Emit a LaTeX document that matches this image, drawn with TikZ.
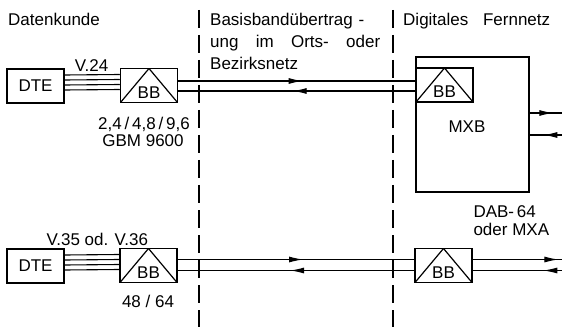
\documentclass[tikz,border=0pt]{standalone}
\usepackage{fontspec}
\setmainfont{Liberation Sans}
\usetikzlibrary{arrows.meta,decorations.markings}

\tikzset{
  unit/.style={draw, line width=1.5pt, minimum width=57pt, minimum height=34pt, inner sep=0pt},
  bbunit/.style={unit, label={[yshift=-7pt]center:BB},
    path picture={\draw[line width=1.2pt] (path picture bounding box.south west)
      -- (path picture bounding box.north) -- (path picture bounding box.south east);}},
  wire/.style={line width=1.1pt},
  fwd/.style={postaction={decorate, decoration={markings,
    mark=at position #1 with {\arrow{Latex[length=14pt,width=6pt]}}}}},
  bwd/.style={postaction={decorate, decoration={markings,
    mark=at position #1 with {\arrowreversed{Latex[length=14pt,width=6pt]}}}}},
  zone/.style={line width=1.1pt, dash pattern=on 18pt off 7pt},
}

\begin{document}
\begin{tikzpicture}[x=1pt, y=1pt, font=\fontsize{17}{22}\selectfont]
  \useasboundingbox (0,0) rectangle (562,327);

  % headings
  \node [anchor=base west, inner sep=0pt] (Kunde_txt) at (8, 301) {Datenkunde};
  \node [anchor=north west, align=left, inner sep=0pt] (Orts_txt) at (210, 314)
    {Basisbandübertrag\,\,-\\\makebox[170pt][s]{ung im Orts- oder}\\Bezirksnetz};
  \node [anchor=base west, inner sep=0pt] (Fern_txt) at (403, 301)
    {\makebox[147pt][s]{Digitales Fernnetz}};

  % zone borders
  \draw [zone] (199, 317) -- (199, 0);
  \draw [zone] (393, 317) -- (393, 0);

  % upper chain
  \node [unit] (DTE_top) at (35.5, 241) {DTE};
  \node [bbunit] (BB_top) at (149, 241.5) {};
  \node [unit, minimum width=113pt, minimum height=135pt,
    label={[xshift=-5.5pt, yshift=-2.5pt]center:MXB}] (MXB_node) at (472.5, 202.5) {};
  \node [bbunit, anchor=north west] (BB_mxb) at ([yshift=-11pt]MXB_node.north west) {};

  \node [anchor=base] (V24_txt) at (91.5, 255.5) {V.24};
  \node [anchor=base] (Rate_top) at (144, 197) {2,4\,/\,4,8\,/\,9,6};
  \node [anchor=base] (GBM_txt) at (143, 180) {GBM 9600};

  \foreach \dy in {11,6,1,-4}
    \draw [wire] ([yshift=\dy pt]DTE_top.east) -- ([yshift=\dy pt]BB_top.west);

  \draw [wire, fwd=0.525] ([yshift=4.5pt]BB_top.east) -- ([yshift=4.5pt]BB_top.east -| BB_mxb.west);
  \draw [wire, bwd=0.483] ([yshift=-5.5pt]BB_top.east) -- ([yshift=-5.5pt]BB_top.east -| BB_mxb.west);

  \coordinate (Out_hi) at (562, 214);
  \coordinate (Out_lo) at (562, 192);
  \draw [wire, fwd=0.73] (MXB_node.east |- Out_hi) -- (Out_hi);
  \draw [wire, bwd=0.42] (MXB_node.east |- Out_lo) -- (Out_lo);

  \node [anchor=base west] (DAB_txt) at (470, 110) {DAB-\,64};
  \node [anchor=base west] (MXA_txt) at (470, 92) {oder MXA};

  % lower chain
  \node [unit] (DTE_bot) at (35.5, 61) {DTE};
  \node [bbunit] (BB_bot) at (148.5, 61.5) {};
  \node [bbunit] (BB_far) at (443.5, 61.5) {};

  \node [anchor=base west] (V35_txt) at (43, 82) {V.35 od. V.36};
  \node [anchor=base] (Rate_bot) at (148, 20) {48 / 64};

  \foreach \dy in {11,6,1,-4}
    \draw [wire] ([yshift=\dy pt]DTE_bot.east) -- ([yshift=\dy pt]BB_bot.west);

  \draw [wire, fwd=0.53] ([yshift=6pt]BB_bot.east) -- ([yshift=6pt]BB_far.west);
  \draw [wire, bwd=0.475] ([yshift=-5pt]BB_bot.east) -- ([yshift=-5pt]BB_far.west);

  \coordinate (Far_hi) at (562, 67.5);
  \coordinate (Far_lo) at (562, 56.5);
  \draw [wire, fwd=0.96] (BB_far.east |- Far_hi) -- (Far_hi);
  \draw [wire, bwd=0.79] (BB_far.east |- Far_lo) -- (Far_lo);
\end{tikzpicture}
\end{document}
